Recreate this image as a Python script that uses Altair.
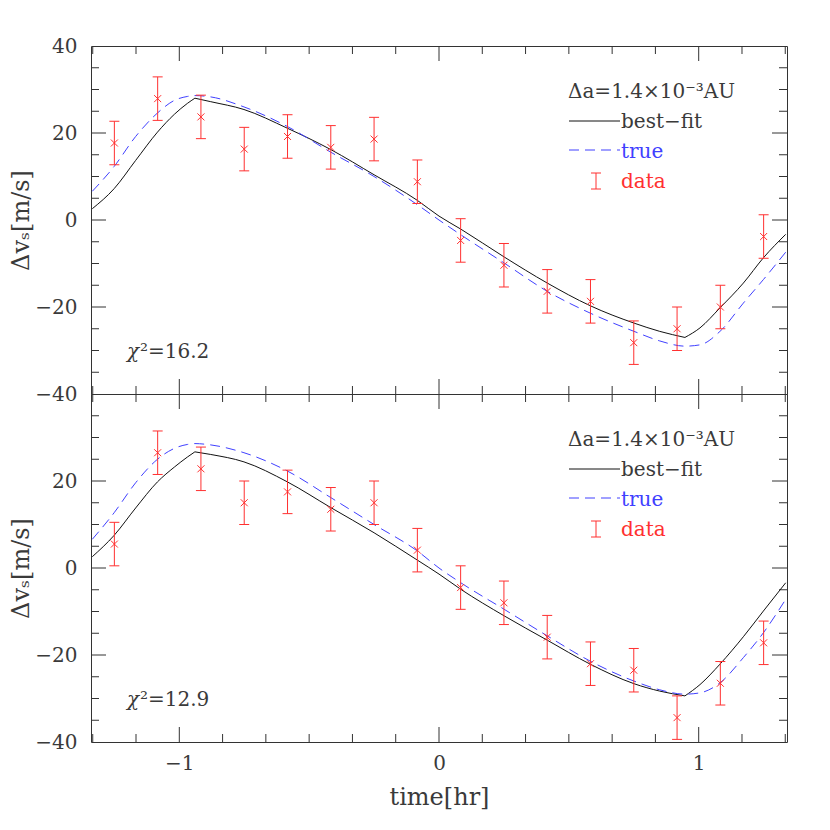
import altair as alt
import pandas as pd

# ---------------- data ----------------
# observation epochs [hr]
T_OBS = [-1.25, -1.0833, -0.9167, -0.75, -0.5833, -0.4167, -0.25, -0.0833,
         0.0833, 0.25, 0.4167, 0.5833, 0.75, 0.9167, 1.0833, 1.25]
V_OBS_TOP = [17.7, 27.9, 23.7, 16.3, 19.2, 16.7, 18.6, 8.8,
             -4.7, -10.4, -16.4, -18.7, -28.2, -25.0, -20.0, -3.8]
V_OBS_BOT = [5.5, 26.5, 22.8, 15.0, 17.5, 13.5, 15.0, 4.1,
             -4.5, -8.0, -15.9, -22.0, -23.5, -34.4, -26.5, -17.2]
ERR_OBS = [5.0, 5.0, 5.0, 5.0, 5.0, 5.0, 5.0, 5.0,
           5.0, 5.0, 5.0, 5.0, 5.0, 5.0, 5.0, 5.0]

# model curves sampled in time [hr]
T_CURVE = [-1.335, -1.251, -1.168, -1.084, -1.019, -0.969, -0.94, -0.879,
           -0.751, -0.584, -0.417, -0.25, -0.083, 0.0, 0.084, 0.251,
           0.417, 0.582, 0.751, 0.85, 0.947, 1.005, 1.082, 1.172, 1.249, 1.335]
FIT_TOP = [2.6, 7.2, 13.7, 20.2, 24.3, 26.8, 28.0, 27.2,
           25.4, 21.1, 16.2, 10.4, 4.5, 0.9, -2.1, -8.5,
           -14.5, -19.7, -23.7, -25.6, -27.0, -24.8, -20.2, -14.5, -8.7, -3.3]
TRUE_TOP = [6.6, 12.3, 19.2, 24.6, 27.5, 28.4, 28.6, 28.3,
            26.0, 21.5, 15.6, 10.0, 3.5, 0.0, -3.4, -9.9,
            -16.4, -21.4, -25.6, -27.8, -29.0, -28.7, -25.6, -19.1, -13.7, -7.4]
FIT_BOT = [2.6, 7.5, 13.8, 19.8, 23.2, 25.5, 26.7, 26.1,
           24.4, 19.8, 13.9, 8.1, 1.8, -1.4, -4.9, -11.0,
           -16.6, -22.1, -26.6, -28.3, -29.4, -26.8, -22.1, -15.8, -9.9, -3.4]
TRUE_BOT = [6.6, 12.7, 19.6, 25.0, 27.5, 28.4, 28.6, 28.3,
            26.5, 22.3, 16.2, 10.0, 3.9, 0.0, -3.4, -9.5,
            -15.6, -21.4, -26.0, -28.0, -29.0, -28.7, -26.4, -20.6, -14.9, -7.2]

CHI_TOP = "²=16.2"
CHI_BOT = "²=12.9"
LEGEND_TITLE = "Δa=1.4×10⁻³AU"

# axis ticks / labels
X_LABELS = [-1, 0, 1]
Y_LABELS_TOP = [-40, -20, 0, 20, 40]
Y_LABELS_BOT = [-40, -20, 0, 20]
X_TICKS_MAJOR = [-1, 0, 1]
X_TICKS_MINOR = [-1.3333, -1.1667, -0.8333, -0.6667, -0.5, -0.3333, -0.1667,
                 0.1667, 0.3333, 0.5, 0.6667, 0.8333, 1.1667, 1.3333]
Y_TICKS_MAJOR = [-20, 0, 20]
Y_TICKS_MINOR = [-35, -30, -25, -15, -10, -5, 5, 10, 15, 25, 30, 35]

# ---------------- styling ----------------
W, H = 696, 348
FONT = "DejaVu Serif"
INK = "#333333"
TEXT = "#3a3a3a"
RED = "#ff3030"
BLUE = "#4040ff"
XS = alt.Scale(domain=[-1.34, 1.34], nice=False, zero=False)
YS = alt.Scale(domain=[-40, 40], nice=False, zero=False)
ONE = pd.DataFrame({"k": [0]})


def make_axes(y_labels, show_x):
    y_axis = alt.Axis(
        values=y_labels, ticks=False, tickSize=0, domain=False, grid=False,
        labelPadding=14, labelFontSize=20, labelColor=TEXT, labelFont=FONT,
        title="Δvₛ[m/s]", titleFont=FONT, titleFontSize=24, titleFontWeight="normal",
        titleColor=TEXT, titleX=-70, titleY=H / 2, titleAngle=270,
        titleBaseline="middle", titleAlign="center",
    )
    if show_x:
        x_axis = alt.Axis(
            values=X_LABELS, ticks=False, tickSize=0, domain=False, grid=False,
            labelPadding=11, labelFontSize=20, labelColor=TEXT, labelFont=FONT,
            labelFlush=False,
            title="time[hr]", titleFont=FONT, titleFontSize=24,
            titleFontWeight="normal", titleColor=TEXT, titleX=W / 2, titleY=62,
            titleBaseline="alphabetic", titleAlign="center",
        )
    else:
        x_axis = None
    return x_axis, y_axis


def segmented(tv, vv):
    imax = vv.index(max(vv))
    imin = vv.index(min(vv))
    rows = []
    for i in range(0, imax + 1):
        rows.append({"t": tv[i], "v": vv[i], "seg": "a"})
    for i in range(imax, imin + 1):
        rows.append({"t": tv[i], "v": vv[i], "seg": "b"})
    for i in range(imin, len(tv)):
        rows.append({"t": tv[i], "v": vv[i], "seg": "c"})
    return pd.DataFrame(rows)


def txt(s, x, y, color=TEXT, size=20, style="normal"):
    return alt.Chart(ONE).mark_text(
        text=s, font=FONT, fontSize=size, color=color, align="left",
        baseline="alphabetic", fontStyle=style
    ).encode(x=alt.value(x), y=alt.value(y))


def panel(v_obs, v_fit, v_true, chi, y_labels, show_x):
    x_axis, y_axis = make_axes(y_labels, show_x)

    def X(f="t"):
        return alt.X(f + ":Q", scale=XS, axis=x_axis)

    def Y(f="v"):
        return alt.Y(f + ":Q", scale=YS, axis=y_axis)

    obs = pd.DataFrame({
        "t": T_OBS, "v": v_obs,
        "lo": [a - e for a, e in zip(v_obs, ERR_OBS)],
        "hi": [a + e for a, e in zip(v_obs, ERR_OBS)],
    })

    layers = []
    # inward ticks on all four sides
    for vals, ln in ((X_TICKS_MINOR, 8), (X_TICKS_MAJOR, 15)):
        base = alt.Chart(pd.DataFrame({"t": vals})).mark_rule(color=INK, strokeWidth=1)
        layers.append(base.encode(x=X(), y=alt.value(H), y2=alt.value(H - ln)))
        layers.append(base.encode(x=X(), y=alt.value(0), y2=alt.value(ln)))
    for vals, ln in ((Y_TICKS_MINOR, 8), (Y_TICKS_MAJOR, 15)):
        base = alt.Chart(pd.DataFrame({"v": vals})).mark_rule(color=INK, strokeWidth=1)
        layers.append(base.encode(y=Y(), x=alt.value(0), x2=alt.value(ln)))
        layers.append(base.encode(y=Y(), x=alt.value(W), x2=alt.value(W - ln)))

    fit = segmented(T_CURVE, v_fit)
    layers.append(
        alt.Chart(fit).mark_line(color="#111111", strokeWidth=1, interpolate="monotone", clip=True)
        .encode(x=X(), y=Y(), detail="seg:N")
    )
    true = pd.DataFrame({"t": T_CURVE, "v": v_true})
    layers.append(
        alt.Chart(true).mark_line(color=BLUE, strokeWidth=1, strokeDash=[10, 6],
                                  interpolate="monotone", clip=True)
        .encode(x=X(), y=Y())
    )

    eb = alt.Chart(obs)
    layers.append(eb.mark_rule(color=RED, strokeWidth=1).encode(x=X(), y=Y("lo"), y2="hi:Q"))
    for f in ("lo", "hi"):
        layers.append(
            eb.mark_rule(color=RED, strokeWidth=1, xOffset=-5, x2Offset=5).encode(
                x=X(), x2="t:Q", y=Y(f))
        )
    layers.append(
        eb.mark_point(shape="M-1,-1L1,1M-1,1L1,-1", size=49, filled=False,
                      color=RED, strokeWidth=1, opacity=1).encode(x=X(), y=Y())
    )

    # chi-square annotation
    layers.append(txt("χ", 36, 312, style="italic"))
    layers.append(txt(chi, 49, 312))

    # legend (drawn as annotation)
    layers.append(txt(LEGEND_TITLE, 477, 52))
    layers.append(alt.Chart(ONE).mark_rule(color="#111111", strokeWidth=1).encode(
        x=alt.value(478), x2=alt.value(529), y=alt.value(75)))
    layers.append(txt("best−fit", 530, 82))
    layers.append(alt.Chart(ONE).mark_rule(color=BLUE, strokeWidth=1, strokeDash=[10, 6]).encode(
        x=alt.value(478), x2=alt.value(529), y=alt.value(104)))
    layers.append(txt("true", 530, 112, color=BLUE))
    layers.append(alt.Chart(ONE).mark_rule(color=RED, strokeWidth=1).encode(
        x=alt.value(505), y=alt.value(127), y2=alt.value(143)))
    layers.append(alt.Chart(ONE).mark_rule(color=RED, strokeWidth=1).encode(
        x=alt.value(500), x2=alt.value(510), y=alt.value(127)))
    layers.append(alt.Chart(ONE).mark_rule(color=RED, strokeWidth=1).encode(
        x=alt.value(500), x2=alt.value(510), y=alt.value(143)))
    layers.append(txt("data", 530, 142, color=RED))

    return alt.layer(*layers).properties(width=W, height=H)


top = panel(V_OBS_TOP, FIT_TOP, TRUE_TOP, CHI_TOP, Y_LABELS_TOP, False)
bot = panel(V_OBS_BOT, FIT_BOT, TRUE_BOT, CHI_BOT, Y_LABELS_BOT, True)

chart = alt.vconcat(top, bot, spacing=0, bounds="flush").properties(
    padding={"left": 0, "top": 27, "right": 10, "bottom": 5}
).configure(
    font=FONT,
    view=alt.ViewConfig(stroke=INK, strokeWidth=1),
)

chart.save("out.html", embed_options={"renderer": "svg", "actions": False})
